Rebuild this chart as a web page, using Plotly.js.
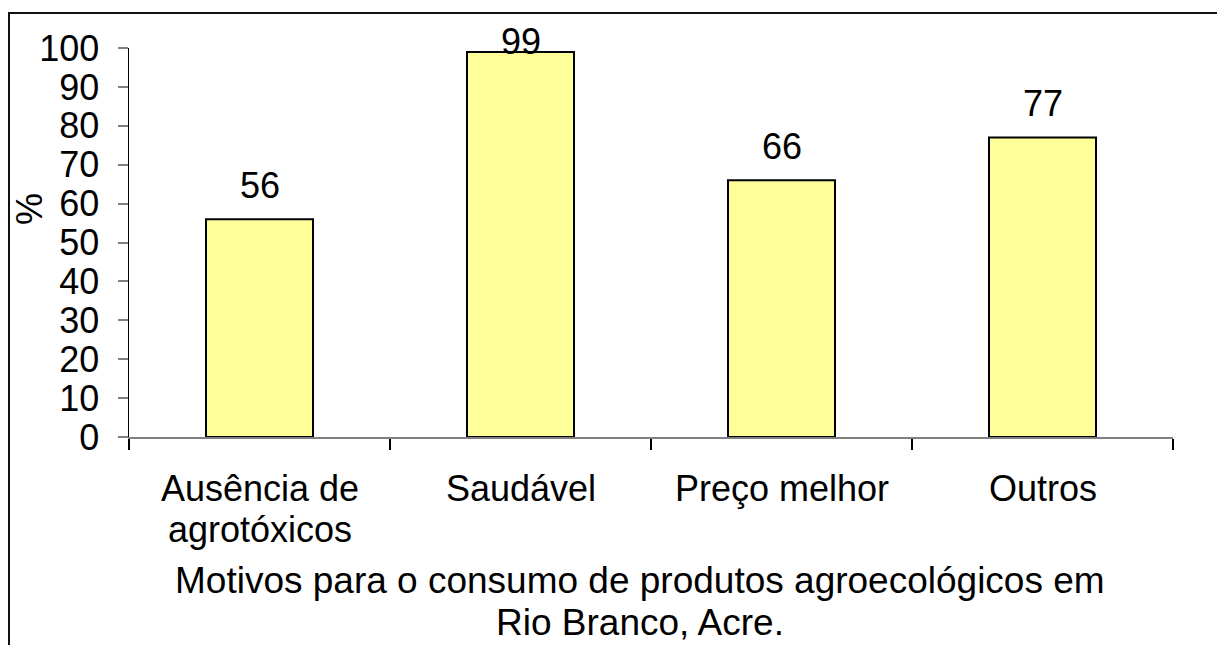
<!DOCTYPE html>
<html>
<head>
<meta charset="utf-8">
<script src="https://cdn.plot.ly/plotly-3.0.1.min.js"></script>
<style>
html,body{margin:0;padding:0;background:#fff;}
#chart{width:1217px;height:645px;}
#frame{position:absolute;left:8px;top:12px;width:1300px;height:700px;border-left:2px solid #111;border-top:2px solid #111;pointer-events:none;}
</style>
</head>
<body>
<div id="chart"></div>
<div id="frame"></div>
<script>
const categories = ["Ausência de<br>agrotóxicos", "Saudável", "Preço melhor", "Outros"];
const values = [56, 99, 66, 77];
const yTickVals = [0, 10, 20, 30, 40, 50, 60, 70, 80, 90, 100];
const yAxisLabel = "%";
const xAxisLabel = "Motivos para o consumo de produtos agroecológicos em<br>Rio Branco, Acre.";

const FONT = "Liberation Sans, Arial, sans-serif";
const FS = 36;
const plotTop = 48, plotBottom = 437;
const plotH = plotBottom - plotTop;
const pxPerUnit = plotH / 100;
const toPaperY = py => (plotBottom - py) / plotH;

const annotations = values.map((v, i) => ({
  x: categories[i], y: v, xref: 'x', yref: 'y',
  text: String(v), showarrow: false,
  yanchor: 'middle', xanchor: 'center',
  yshift: Math.min(34, (100 - v) * pxPerUnit + 7),
  font: {family: FONT, size: FS, color: '#000'}
}));

// category labels (tighter line spacing than Plotly's default)
categories.forEach((c) => {
  c.split('<br>').forEach((line, j) => {
    annotations.push({
      x: c, xref: 'x', yref: 'paper', y: toPaperY(488 + 41 * j),
      text: line, showarrow: false, xanchor: 'center', yanchor: 'middle',
      font: {family: FONT, size: FS, color: '#000'}
    });
  });
});

annotations.push({
  xref: 'paper', yref: 'paper', x: (29 - 129) / 1044, y: toPaperY(209),
  text: yAxisLabel, textangle: -90, showarrow: false,
  xanchor: 'center', yanchor: 'middle',
  font: {family: FONT, size: FS, color: '#000'}
});
xAxisLabel.split('<br>').forEach((line, j) => {
  annotations.push({
    xref: 'paper', yref: 'paper', x: (640 - 129) / 1044, y: toPaperY(580 + 42 * j),
    text: line, showarrow: false,
    xanchor: 'center', yanchor: 'middle',
    font: {family: FONT, size: 37, color: '#000'}
  });
});

const trace = {
  type: 'bar', x: categories, y: values,
  marker: {color: '#FFFF99', line: {color: '#000', width: 2}},
  hoverinfo: 'none'
};

const layout = {
  width: 1217, height: 645,
  paper_bgcolor: '#fff', plot_bgcolor: '#fff',
  margin: {l: 129, r: 44, t: plotTop, b: 645 - plotBottom, pad: 0},
  bargap: 0.59,
  showlegend: false,
  font: {family: FONT, size: FS, color: '#000'},
  xaxis: {
    type: 'category', tickson: 'boundaries',
    ticks: 'outside', ticklen: 11, tickcolor: '#000', tickwidth: 2,
    showline: true, linecolor: '#808080', linewidth: 2,
    showgrid: false, zeroline: false,
    showticklabels: false
  },
  yaxis: {
    range: [0, 100], tickvals: yTickVals, ticktext: yTickVals.map(String),
    ticks: 'outside', ticklen: 10, tickcolor: '#808080', tickwidth: 2,
    showline: true, linecolor: '#000', linewidth: 1.5,
    showgrid: false, zeroline: false,
    tickfont: {family: FONT, size: FS, color: '#000'},
    ticklabelstandoff: 11
  },
  annotations: annotations
};

Plotly.newPlot('chart', [trace], layout, {staticPlot: true, displayModeBar: false});
</script>
</body>
</html>
